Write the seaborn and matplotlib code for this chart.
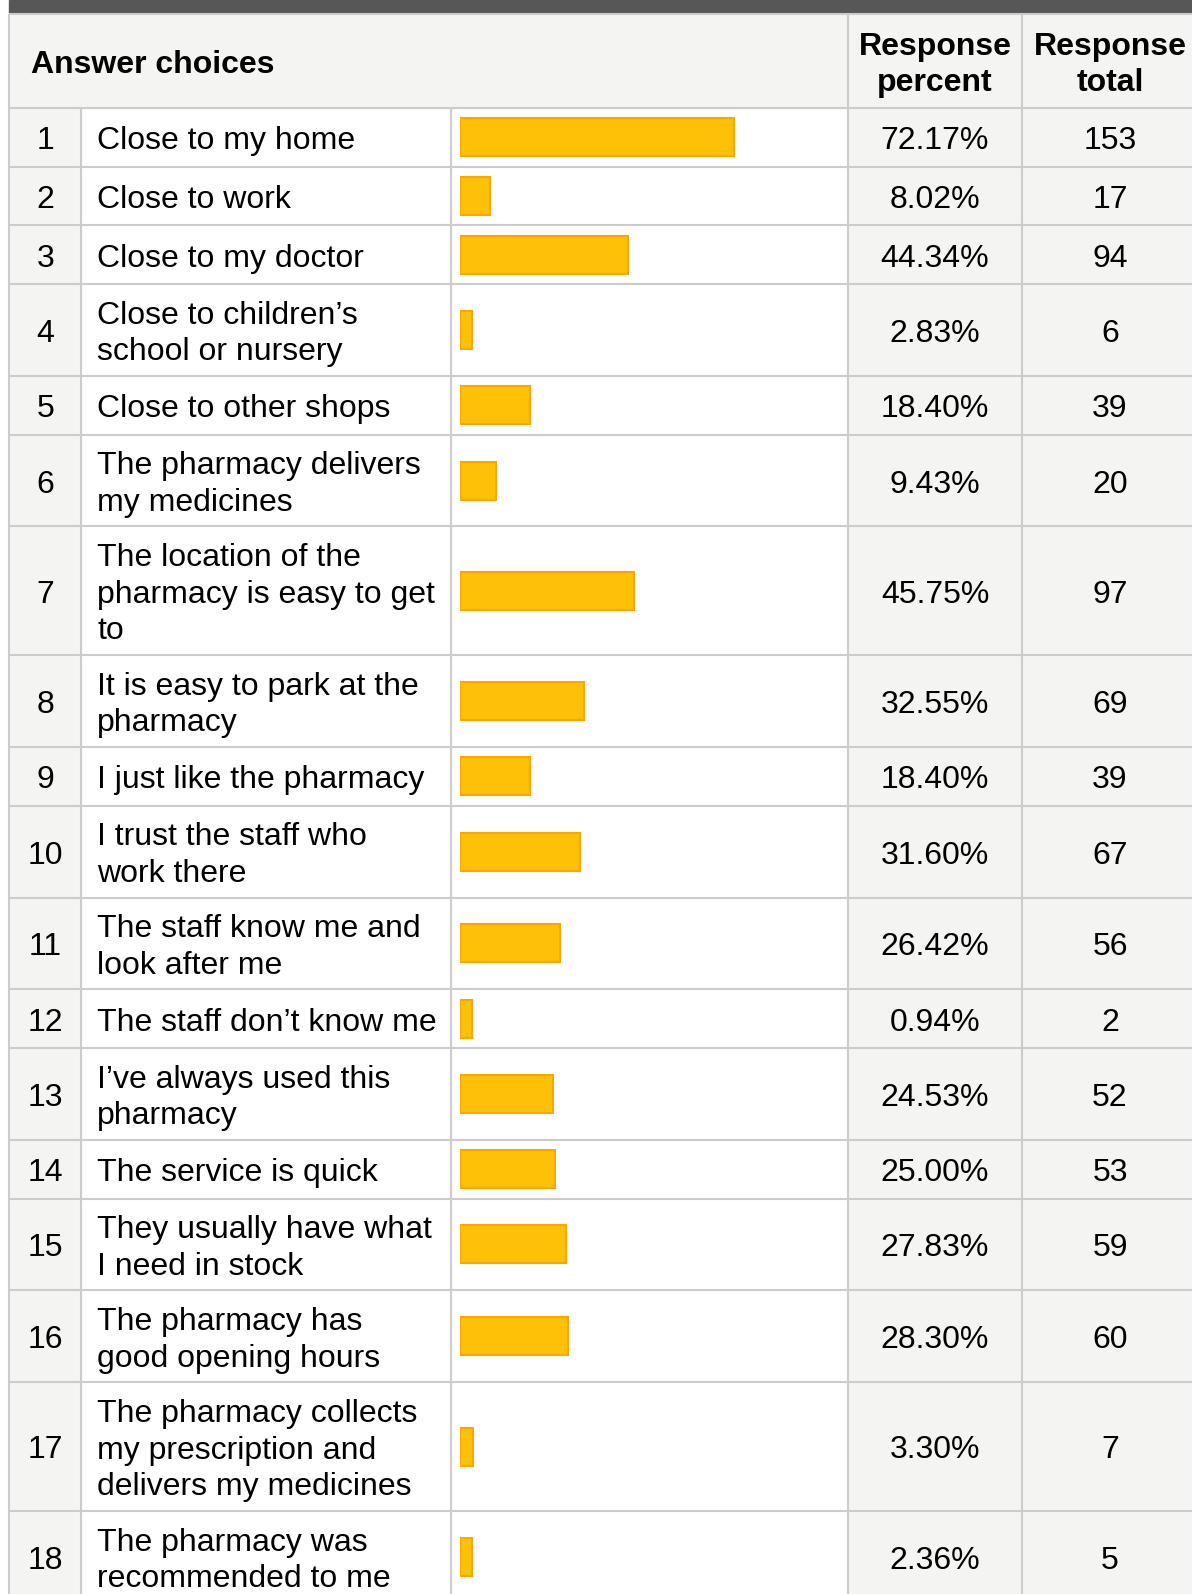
import numpy as np
import pandas as pd
import matplotlib.pyplot as plt
from matplotlib.patches import Rectangle
import seaborn as sns

# answer texts, wrapped as in the source table
choices = [
    'Close to my home',
    'Close to work',
    'Close to my doctor',
    'Close to children\u2019s\nschool or nursery',
    'Close to other shops',
    'The pharmacy delivers\nmy medicines',
    'The location of the\npharmacy is easy to get\nto',
    'It is easy to park at the\npharmacy',
    'I just like the pharmacy',
    'I trust the staff who\nwork there',
    'The staff know me and\nlook after me',
    'The staff don\u2019t know me',
    'I\u2019ve always used this\npharmacy',
    'The service is quick',
    'They usually have what\nI need in stock',
    'The pharmacy has\ngood opening hours',
    'The pharmacy collects\nmy prescription and\ndelivers my medicines',
    'The pharmacy was\nrecommended to me',
]
percents = [72.17, 8.02, 44.34, 2.83, 18.40, 9.43, 45.75, 32.55, 18.40,
            31.60, 26.42, 0.94, 24.53, 25.00, 27.83, 28.30, 3.30, 2.36]
totals = [153, 17, 94, 6, 39, 20, 97, 69, 39, 67, 56, 2, 52, 53, 59, 60, 7, 5]

sns.set_style('white')
plt.rcParams['font.family'] = ['Liberation Sans', 'DejaVu Sans']
plt.rcParams['text.color'] = 'black'

W, H = 1192, 1594
GRID = '#cccccc'
SHADE = '#f4f4f2'
FS = 23
LINE_STEP = 36.6
BASE_OFF = 12  # baseline sits this far below the row centre

# column edges (pixels)
x_left, x_num, x_txt, x_pct, x_tot = 9, 81, 451, 848, 1022
x_pct_mid, x_tot_mid = (x_pct + x_tot) / 2, 1110
header_top, header_bottom = 14, 108
row_heights = {1: 58.7, 2: 91.8, 3: 128.8}

df = pd.DataFrame({'choice': choices, 'percent': percents, 'total': totals})
df['n_lines'] = df['choice'].str.count('\n') + 1
df['height'] = df['n_lines'].map(row_heights)
df['top'] = header_bottom + df['height'].cumsum() - df['height']
df['center'] = df['top'] + df['height'] / 2
# tiny answers still get a visible sliver, like the source
df['bar_len'] = np.maximum(df['percent'], 3.2)

fig = plt.figure(figsize=(W / 100, H / 100), dpi=100)
ax = fig.add_axes([0, 0, 1, 1])
ax.set_xlim(0, W)
ax.set_ylim(H, 0)
ax.axis('off')

# top dark strip + header
ax.add_patch(Rectangle((x_left, 0), W - x_left, 13, color='#575757', zorder=1))
ax.add_patch(Rectangle((x_left, header_top), W - x_left, header_bottom - header_top,
                       color=SHADE, zorder=0))
# shaded columns
ax.add_patch(Rectangle((x_left, header_bottom), x_num - x_left, H, color=SHADE, zorder=0))
ax.add_patch(Rectangle((x_pct, header_bottom), W - x_pct, H, color=SHADE, zorder=0))

# grid lines
ax.hlines([13.5, header_bottom] + list(df['top'] + df['height']), x_left, W,
          color=GRID, lw=1.5, zorder=2)
ax.vlines([x_left, x_pct, x_tot], header_top, H, color=GRID, lw=1.5, zorder=2)
ax.vlines([x_num, x_txt], header_bottom, H, color=GRID, lw=1.5, zorder=2)

# header text
hd = dict(fontsize=FS, fontweight='bold', va='baseline')
ax.text(31, 73, 'Answer choices', ha='left', **hd)
for xm, words in [(x_pct_mid, ('Response', 'percent')), (x_tot_mid, ('Response', 'total'))]:
    ax.text(xm, 55, words[0], ha='center', **hd)
    ax.text(xm, 91, words[1], ha='center', **hd)

for i, row in df.iterrows():
    base = row['center'] + BASE_OFF
    ax.text((x_left + x_num) / 2 + 0.5, base, str(i + 1), fontsize=FS, ha='center', va='baseline')
    lines = row['choice'].split('\n')
    for j, line in enumerate(lines):
        ax.text(97, base + (j - (len(lines) - 1) / 2) * LINE_STEP, line,
                fontsize=FS, ha='left', va='baseline')
    ax.text(x_pct_mid, base, f"{row['percent']:.2f}%", fontsize=FS,
            ha='center', va='baseline')
    ax.text(x_tot_mid, base, str(row['total']), fontsize=FS, ha='center', va='baseline')

# bars: own axes, x = percent (0-100 spans 380 px), y = pixel row centres
bax = fig.add_axes([460 / W, 0, 380 / W, 1])
spacing = np.diff(np.sort(df['center'].unique())).min()
sns.barplot(data=df, x='bar_len', y='center', orient='y', native_scale=True,
            width=38 / spacing, color='#fec107', edgecolor='#fca600', linewidth=1.5,
            saturation=1, errorbar=None, ax=bax)
bax.set_xlim(0, 100)
bax.set_ylim(H, 0)
bax.axis('off')
bax.patch.set_alpha(0)

fig.savefig('out.png', dpi=100)
